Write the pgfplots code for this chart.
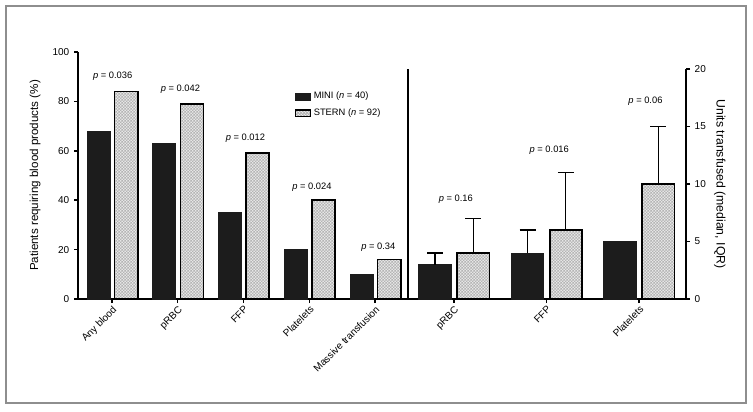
\documentclass[border=0pt]{standalone}
\usepackage{fontspec}
\setmainfont{Liberation Sans}
\usepackage{pgfplots}
\pgfplotsset{compat=1.18}
\usetikzlibrary{patterns}
\pgfdeclarepatternformonly{finecheck}{\pgfpointorigin}{\pgfqpoint{2.2pt}{2.2pt}}{\pgfqpoint{2.2pt}{2.2pt}}{%
  \pgfpathrectangle{\pgfpointorigin}{\pgfqpoint{1.1pt}{1.1pt}}%
  \pgfpathrectangle{\pgfqpoint{1.1pt}{1.1pt}}{\pgfqpoint{1.1pt}{1.1pt}}%
  \pgfusepath{fill}}
\definecolor{minifill}{HTML}{1C1C1C}
\definecolor{sternfill}{HTML}{E6E6E6}
\definecolor{sterndot}{HTML}{B4B4B4}
\definecolor{framegray}{HTML}{8E8E8E}
\tikzset{pval/.style={font=\fontsize{7}{8}\selectfont, anchor=center}}
\pgfplotsset{
  common/.style={
    scale only axis,
    ybar,
    axis x line*=bottom,
    axis line style={-, line width=1.4pt, black},
    major tick style={line width=1.1pt, black},
    major tick length=3pt,
    tick align=outside,
    /pgf/number format/assume math mode=true,
    ticklabel style={font=\fontsize{7.5}{8}\selectfont},
    xticklabel style={rotate=45, anchor=north east, inner sep=1pt},
    ymin=0,
    bar width=0.35,
    clip=false,
  },
  ministyle/.style={fill=minifill, draw=minifill, line width=0.6pt,
    legend image code/.code={\draw[fill=minifill,draw=minifill] (0pt,-2.6pt) rectangle (11pt,2.6pt);}},
  sternstyle/.style={fill=sternfill, draw=black, line width=1.3pt,
    postaction={pattern=finecheck, pattern color=sterndot},
    legend image code/.code={\draw[fill=sternfill,draw=black,line width=1pt,
      postaction={pattern=finecheck, pattern color=sterndot}] (0pt,-2.6pt) rectangle (11pt,2.6pt);}},
  errstyle/.style={error bars/.cd, y dir=plus, y explicit,
    error bar style={line width=0.8pt, black},
    error mark options={rotate=90, line width=0.8pt, mark size=6pt, black}},
}
\begin{document}
\begin{tikzpicture}
\path[use as bounding box] (0,0) rectangle (564.75pt,308.25pt);
\draw[framegray, line width=1.4pt] (4.5pt,6pt) rectangle (559.5pt,303.75pt);

% left axis: percent of patients
\begin{axis}[common,
  at={(58.5pt,84pt)}, anchor=south west,
  width=247.5pt, height=185.25pt,
  axis y line*=left,
  xmin=-0.517, xmax=4.502,
  ymax=100,
  ytick={0,20,40,60,80,100},
  xtick={0,1,2,3,4},
  xticklabels={Any blood, pRBC, FFP, Platelets, Massive transfusion},
  every axis y label/.style={at={(rel axis cs:-0.13,0.5)}, rotate=90, anchor=center,
    font=\fontsize{8.7}{10}\selectfont},
  ylabel={Patients requiring blood products (\%)},
  legend style={at={(rel axis cs:0.645,0.86)}, anchor=north west, draw=none, fill=none,
    font=\fontsize{7}{8}\selectfont, row sep=2pt},
  legend cell align=left,
]
\addplot[ministyle, bar shift=-0.205] coordinates {(0,68) (1,63) (2,35) (3,20) (4,10)};
\addlegendentry{MINI (\textit{n} = 40)}
\addplot[sternstyle, bar shift=0.215] coordinates {(0,84) (1,79) (2,59) (3,40) (4,16)};
\addlegendentry{STERN (\textit{n} = 92)}
\node[pval] at (axis cs:0.01,90.3) {\textit{p} = 0.036};
\node[pval] at (axis cs:1.04,85) {\textit{p} = 0.042};
\node[pval] at (axis cs:2.03,65.2) {\textit{p} = 0.012};
\node[pval] at (axis cs:3.04,45.3) {\textit{p} = 0.024};
\node[pval] at (axis cs:4.05,21.1) {\textit{p} = 0.34};
\end{axis}

% right axis: units transfused
\begin{axis}[common,
  at={(306pt,84pt)}, anchor=south west,
  width=208.5pt, height=172.5pt,
  axis y line*=right,
  xmin=-0.497, xmax=2.508,
  ymax=20,
  ytick={0,5,10,15,20},
  xtick={0,1,2},
  xticklabels={pRBC, FFP, Platelets},
  every axis y label/.style={at={(rel axis cs:1.122,0.5)}, rotate=-90, anchor=center,
    font=\fontsize{9.2}{10}\selectfont},
  ylabel={Units transfused (median, IQR)},
]
\draw[black, line width=1.4pt] (rel axis cs:0,0) -- (rel axis cs:0,1);
\addplot[ministyle, bar shift=-0.205, errstyle]
  coordinates {(0,3) +- (0,1) (1,4) +- (0,2)};
\addplot[ministyle, bar shift=-0.205, forget plot]
  coordinates {(2,5)};
\addplot[sternstyle, bar shift=0.21, errstyle]
  coordinates {(0,4) +- (0,3) (1,6) +- (0,5) (2,10) +- (0,5)};
\node[pval] at (axis cs:0.02,8.7) {\textit{p} = 0.16};
\node[pval] at (axis cs:1.03,12.9) {\textit{p} = 0.016};
\node[pval] at (axis cs:2.07,17.2) {\textit{p} = 0.06};
\end{axis}
\end{tikzpicture}
\end{document}
